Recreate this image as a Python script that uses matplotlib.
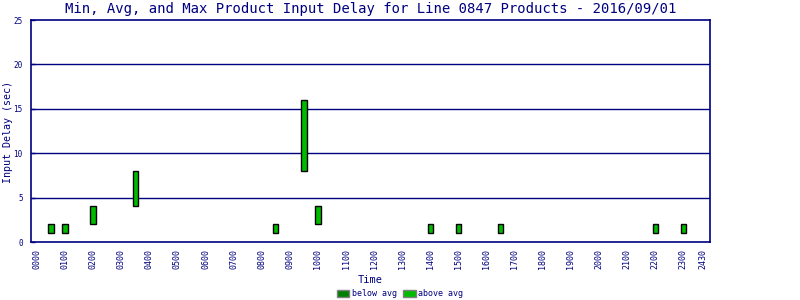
import matplotlib
matplotlib.use("agg")
import matplotlib.pyplot as plt
from matplotlib.patches import Patch

# hour of day (decimal), min and max delay in seconds
slot_hours = [0.5, 1.0, 2.0, 3.5, 8.5, 9.5, 10.0, 14.0, 15.0, 16.5, 22.0, 23.0]
min_delay = [1, 1, 2, 4, 1, 8, 2, 1, 1, 1, 1, 1]
max_delay = [2, 2, 4, 8, 2, 16, 4, 2, 2, 2, 2, 2]

tick_hours = list(range(24)) + [23.7]
tick_labels = [f"{h:02d}00" for h in range(24)] + ["2430"]

navy = "#000080"
above_col = "#00bb00"
below_col = "#008000"
font = "DejaVu Sans Mono"

fig = plt.figure(figsize=(8, 3), dpi=100)
ax = fig.add_axes([0.03875, 0.1933, 0.84875, 0.74])

heights = [mx - mn for mn, mx in zip(min_delay, max_delay)]
ax.bar(slot_hours, heights, bottom=min_delay, width=0.19, color=above_col,
       edgecolor="black", linewidth=1.0, zorder=3)

ax.set_xlim(-0.21, 23.95)
ax.set_ylim(0, 25)
ax.set_yticks([0, 5, 10, 15, 20, 25])
for y in [5, 10, 15, 20]:
    ax.axhline(y, color=navy, linewidth=1.0, zorder=1)

ax.set_xticks(tick_hours)
ax.set_xticklabels(tick_labels, rotation=90, fontsize=6, family=font, color=navy)
for lbl in ax.get_yticklabels():
    lbl.set_fontsize(5.5)
    lbl.set_family(font)
    lbl.set_color(navy)
ax.tick_params(axis="x", length=0, pad=5)
ax.tick_params(axis="y", direction="in", length=3, width=1, color=navy, pad=6)

for s in ax.spines.values():
    s.set_color(navy)
    s.set_linewidth(1.2)

ax.set_title("Min, Avg, and Max Product Input Delay for Line 0847 Products - 2016/09/01",
             fontsize=10, family=font, color=navy, pad=5)
fig.text(0.01, 0.56, "Input Delay (sec)", rotation=90, ha="center", va="center",
         fontsize=7.2, family=font, color=navy)
ax.set_xlabel("Time", fontsize=7.5, family=font, color=navy, labelpad=4)

handles = [Patch(facecolor=below_col, edgecolor="gray", label="below avg"),
           Patch(facecolor=above_col, edgecolor="gray", label="above avg")]
leg = fig.legend(handles=handles, loc="lower center", bbox_to_anchor=(0.5, -0.02),
                 ncol=2, frameon=False, handlelength=1.5, handleheight=0.9,
                 handletextpad=0.3, columnspacing=0.8, prop={"family": font, "size": 6})
for t in leg.get_texts():
    t.set_color(navy)

fig.savefig("out.png", dpi=100)
